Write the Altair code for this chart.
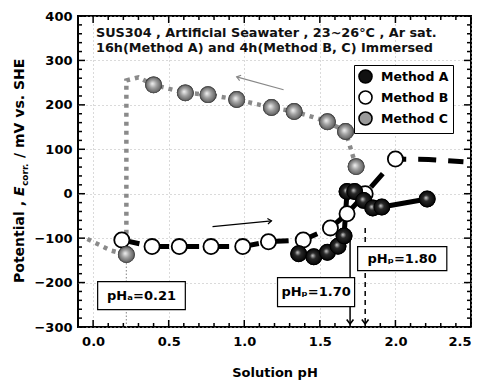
import altair as alt
import pandas as pd

# ---------------- data ----------------
methods = ["Method A", "Method B", "Method C"]

a_ph = [1.36, 1.46, 1.55, 1.62, 1.66, 1.68, 1.73, 1.79, 1.85, 1.91, 2.21]
a_e = [-135, -142, -132, -118, -95, 5, 5, -15, -32, -30, -12]

b_ph = [0.19, 0.39, 0.57, 0.78, 0.99, 1.16, 1.39, 1.57, 1.68, 1.80, 2.00]
b_e = [-104, -119, -119, -119, -119, -108, -104, -77, -45, 0, 78]
b_tail_ph = [2.22, 2.45]
b_tail_e = [77, 72]

c_ph = [1.74, 1.67, 1.55, 1.33, 1.18, 0.95, 0.76, 0.61, 0.40, 0.22]
c_e = [61, 140, 162, 185, 194, 212, 223, 227, 245, -137]
c_path_ph = [1.74, 1.67, 1.55, 1.45, 1.33, 1.18, 0.95, 0.76, 0.61, 0.40, 0.30, 0.22, 0.22, 0.12, 0.04, -0.05]
c_path_e = [61, 140, 162, 173, 185, 194, 212, 223, 227, 245, 262, 255, -137, -128, -115, -100]

# reference markers
pha_x = [0.22]
pha_y = [-140]
pha_y2 = [-300]
php_x = [1.70, 1.80]
php_top = [-105, -77]
php_tip = [-293, -293]

# label boxes
box_text = ["pHₐ=0.21", "pHₚ=1.70", "pHₚ=1.80"]
box_x1 = [0.03, 1.22, 1.75]
box_x2 = [0.61, 1.73, 2.34]
box_y1 = [-198, -189, -119]
box_y2 = [-261, -254, -173]
box_tx = [0.32, 1.475, 2.045]
box_ty = [-230, -222, -146]

# direction arrows
arr_x1 = [1.26, 0.79]
arr_y1 = [234, -74]
arr_x2 = [0.95, 1.18]
arr_y2 = [263, -61]
arr_angle = [196, 354]
arr_color = ["#888888", "#000000"]

header = ["SUS304 , Artificial Seawater , 23~26°C , Ar sat.",
          "16h(Method A) and 4h(Method B, C) Immersed"]

# axes
x_major = [0.0, 0.5, 1.0, 1.5, 2.0, 2.5]
x_minor = [-0.1, 0.1, 0.2, 0.3, 0.4, 0.6, 0.7, 0.8, 0.9, 1.1, 1.2, 1.3, 1.4,
           1.6, 1.7, 1.8, 1.9, 2.1, 2.2, 2.3, 2.4]
y_major = [-300, -200, -100, 0, 100, 200, 300, 400]
y_minor = [-280, -260, -240, -220, -180, -160, -140, -120, -80, -60, -40, -20,
           20, 40, 60, 80, 120, 140, 160, 180, 220, 240, 260, 280, 320, 340, 360, 380]

# ---------------- chart ----------------
W, H = 393, 311
FONT = "DejaVu Sans"
xs = alt.Scale(domain=[-0.1, 2.5], nice=False, zero=False)
ys = alt.Scale(domain=[-300, 400], nice=False, zero=False)

AX = alt.Axis(values=x_major, format=".1f", grid=True, ticks=False, domain=False,
              title="Solution pH", titleFont=FONT, titleFontWeight="bold", titleFontSize=13,
              titleColor="black", titlePadding=18, labelPadding=8)
AY = alt.Axis(values=y_major, format="d", grid=True, ticks=False, domain=False,
              title=None, labelPadding=6)


def X(field="ph", **kw):
    return alt.X(f"{field}:Q", scale=xs, axis=AX, **kw)


def Y(field="e", **kw):
    return alt.Y(f"{field}:Q", scale=ys, axis=AY, **kw)


layers = []

# tick marks on all four sides
def tick_layer(vals, axis, side, length):
    df = pd.DataFrame({"v": vals})
    base = alt.Chart(df).mark_rule(color="black", strokeWidth=1.5)
    if axis == "x":
        if side == "bottom":
            return base.encode(x=X("v"), y=alt.value(H), y2=alt.value(H - length))
        return base.encode(x=X("v"), y=alt.value(0), y2=alt.value(length))
    if side == "left":
        return base.encode(y=Y("v"), x=alt.value(0), x2=alt.value(length))
    return base.encode(y=Y("v"), x=alt.value(W), x2=alt.value(W - length))


for side in ["bottom", "top"]:
    layers.append(tick_layer(x_major, "x", side, 7))
    layers.append(tick_layer(x_minor, "x", side, 4))
for side in ["left", "right"]:
    layers.append(tick_layer(y_major, "y", side, 7))
    layers.append(tick_layer(y_minor, "y", side, 4))

# pHa thin dotted marker
pha_df = pd.DataFrame({"x": pha_x, "y": pha_y, "y2": pha_y2})
layers.append(alt.Chart(pha_df).mark_rule(color="#999999", strokeWidth=1.2, strokeDash=[1.5, 2]).encode(
    x=X("x"), y=Y("y"), y2="y2:Q"))

# pHp lines
php_df = pd.DataFrame({"x": php_x, "y": php_top, "y2": php_tip, "k": ["s", "d"]})
layers.append(alt.Chart(php_df[php_df.k == "s"]).mark_rule(color="black", strokeWidth=1.5).encode(
    x=X("x"), y=Y("y"), y2="y2:Q"))
layers.append(alt.Chart(php_df[php_df.k == "d"]).mark_rule(color="black", strokeWidth=1.5, strokeDash=[5, 4]).encode(
    x=X("x"), y=Y("y"), y2="y2:Q"))
layers.append(alt.Chart(php_df).mark_point(shape="M-1,-1.3L0,0L1,-1.3", filled=False, color="black",
                                           strokeWidth=1.6, size=45, opacity=1).encode(
    x=X("x"), y=Y("y2")))

# direction arrows
arr_df = pd.DataFrame({"x": arr_x1, "y": arr_y1, "x2": arr_x2, "y2": arr_y2,
                       "ang": arr_angle, "col": arr_color})
for i in range(len(arr_x1)):
    d = arr_df.iloc[[i]]
    layers.append(alt.Chart(d).mark_rule(color=arr_color[i], strokeWidth=1.2).encode(
        x=X("x"), y=Y("y"), x2="x2:Q", y2="y2:Q"))
    layers.append(alt.Chart(d).mark_point(shape="M-1.4,-1L0,0L-1.4,1", filled=False, color=arr_color[i],
                                          strokeWidth=1.2, size=30, opacity=1, angle=arr_angle[i]).encode(
        x=X("x2"), y=Y("y2")))

# series lines
def line_layer(ph, e, **mk):
    df = pd.DataFrame({"ph": ph, "e": e, "i": list(range(len(ph)))})
    return alt.Chart(df).mark_line(**mk).encode(x=X(), y=Y(), order="i:Q")


layers.append(line_layer(c_path_ph, c_path_e, color="#8a8a8a", strokeWidth=4.5, strokeDash=[4, 5], strokeCap="butt"))
layers.append(line_layer(b_ph + b_tail_ph, b_e + b_tail_e, color="black", strokeWidth=5, strokeDash=[18, 12], strokeCap="butt"))
layers.append(line_layer(a_ph, a_e, color="black", strokeWidth=5))

# all points with solid fills (makes the legend, draws Method B)
pts = pd.DataFrame({
    "ph": b_ph + a_ph + c_ph,
    "e": b_e + a_e + c_e,
    "m": ["Method B"] * len(b_ph) + ["Method A"] * len(a_ph) + ["Method C"] * len(c_ph),
})
layers.append(alt.Chart(pts).mark_point(filled=True, size=230, opacity=1, stroke="black", strokeWidth=1.8).encode(
    x=X(), y=Y(),
    fill=alt.Fill("m:N", scale=alt.Scale(domain=methods, range=["#111111", "#ffffff", "#9a9a9a"]),
                  legend=alt.Legend(title=None, orient="none", legendX=276, legendY=49,
                                    strokeColor="black", fillColor="white", padding=4, rowPadding=0,
                                    labelFont=FONT, labelFontWeight="bold", labelFontSize=12.5,
                                    labelColor="black", labelOffset=8, symbolSize=170,
                                    symbolStrokeWidth=1.6, symbolType="circle",
                                    symbolStrokeColor="black")),
))

grad_a = alt.RadialGradient(gradient="radial", x1=0.42, y1=0.42, r1=0, x2=0.5, y2=0.5, r2=0.55,
                            stops=[alt.GradientStop(color="#d0d0d0", offset=0),
                                   alt.GradientStop(color="#2a2a2a", offset=0.35),
                                   alt.GradientStop(color="#000000", offset=1)])
grad_c = alt.RadialGradient(gradient="radial", x1=0.42, y1=0.42, r1=0, x2=0.5, y2=0.5, r2=0.55,
                            stops=[alt.GradientStop(color="#f4f4f4", offset=0),
                                   alt.GradientStop(color="#a0a0a0", offset=0.45),
                                   alt.GradientStop(color="#555555", offset=1)])
a_df = pd.DataFrame({"ph": a_ph, "e": a_e})
c_df = pd.DataFrame({"ph": c_ph, "e": c_e})
layers.append(alt.Chart(a_df).mark_point(filled=True, fill=grad_a, stroke="black", strokeWidth=1, size=250,
                                         opacity=1).encode(x=X(), y=Y()))
layers.append(alt.Chart(c_df).mark_point(filled=True, fill=grad_c, stroke="#555555", strokeWidth=1, size=250,
                                         opacity=1).encode(x=X(), y=Y()))

# label boxes
box_df = pd.DataFrame({"x": box_x1, "x2": box_x2, "y": box_y1, "y2": box_y2,
                       "tx": box_tx, "ty": box_ty, "t": box_text})
layers.append(alt.Chart(box_df).mark_rect(fill="white", stroke="black", strokeWidth=1.2).encode(
    x=X("x"), x2="x2:Q", y=Y("y"), y2="y2:Q"))
layers.append(alt.Chart(box_df).mark_text(font=FONT, fontWeight="bold", fontSize=13, color="black",
                                          align="center", baseline="middle").encode(
    x=X("tx"), y=Y("ty"), text="t:N"))

# header text
for i, t in enumerate(header):
    layers.append(alt.Chart(pd.DataFrame({"t": [t]})).mark_text(
        font=FONT, fontWeight="bold", fontSize=12.8, color="#111111", align="left",
        baseline="alphabetic").encode(text="t:N", x=alt.value(18), y=alt.value(21 + 15 * i)))

# y axis title (with italic E and subscript)
ytitle = [("Potential ,", 267, -54, 14, "normal"),
          ("E", 180, -54, 14, "italic"),
          ("corr.", 170, -50, 9, "normal"),
          ("/ mV vs. SHE", 142, -54, 14, "normal")]
for t, yy, xx, fs, st in ytitle:
    layers.append(alt.Chart(pd.DataFrame({"t": [t]})).mark_text(
        font=FONT, fontWeight="bold", fontSize=fs, fontStyle=st, color="black", align="left",
        baseline="alphabetic", angle=270).encode(text="t:N", x=alt.value(xx), y=alt.value(yy)))

chart = alt.layer(*layers).properties(
    width=W, height=H,
    autosize=alt.AutoSizeParams(type="none"),
    padding={"left": 70, "top": 8, "right": 6, "bottom": 58},
    background="white",
).configure_view(stroke="black", strokeWidth=2).configure_axis(
    labelFont=FONT, labelFontWeight="bold", labelFontSize=13, labelColor="black",
    gridColor="#b5b5b5", gridDash=[1, 3], gridWidth=1,
)

chart.save("out.html", embed_options={"renderer": "svg", "actions": False})
